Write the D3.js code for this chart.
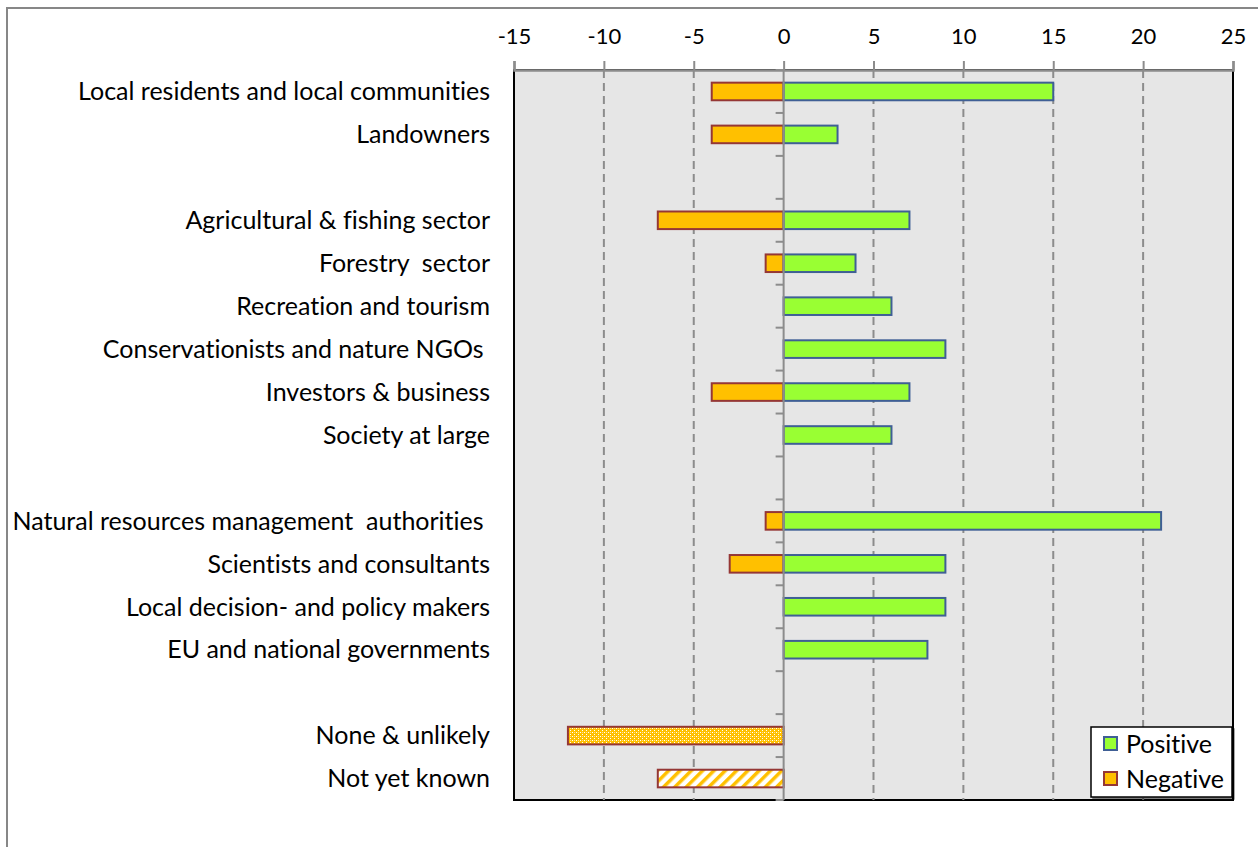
<!DOCTYPE html>
<html>
<head>
<meta charset="utf-8">
<script src="https://cdn.jsdelivr.net/npm/d3@7"></script>
<style>
  html, body { margin: 0; padding: 0; background: #fff; }
  svg { display: block; }
  text { font-family: Lato, "Open Sans", sans-serif; fill: #000; font-variant-ligatures: none; font-feature-settings: "liga" 0, "clig" 0; }
</style>
</head>
<body>
<svg id="chart" width="1258" height="847"></svg>
<script>
// Stakeholder groups, top to bottom; empty strings are spacer rows between groups
const categories = [
  "Local residents and local communities",
  "Landowners",
  "",
  "Agricultural & fishing sector",
  "Forestry  sector",
  "Recreation and tourism",
  "Conservationists and nature NGOs ",
  "Investors & business",
  "Society at large",
  "",
  "Natural resources management  authorities ",
  "Scientists and consultants",
  "Local decision- and policy makers",
  "EU and national governments",
  "",
  "None & unlikely",
  "Not yet known"
];
const positive = [15, 3, null, 7, 4, 6, 9, 7, 6, null, 21, 9, 9, 8, null, null, null];
const negative = [-4, -4, null, -7, -1, 0, 0, -4, 0, null, -1, -3, 0, 0, null, -12, -7];
// Fill style of the negative bar per row: solid, dotted or striped
const negativeFill = ["solid", "solid", null, "solid", "solid", "solid", "solid", "solid", "solid", null,
                      "solid", "solid", "solid", "solid", null, "dots", "stripes"];
const xTicks = [-15, -10, -5, 0, 5, 10, 15, 20, 25];
const seriesNames = ["Positive", "Negative"];

const C = {
  posFill: "#99FF33", posStroke: "#3F5F95",
  negFill: "#FFC000", negStroke: "#953735",
  plotBg: "#E6E6E6", grid: "#8C8C8C", axis: "#8C8C8C"
};
const labelSize = "25px", tickSize = "22px";

const svg = d3.select("#chart");
const plot = { left: 514, right: 1233, top: 70, bottom: 800 };

const x = d3.scaleLinear().domain([-15, 25]).range([plot.left, plot.right]);
const y = d3.scaleBand().domain(d3.range(categories.length)).range([plot.top, plot.bottom]).padding(0);
const barH = y.bandwidth() * 0.41;

// Fill patterns for the last two rows
const defs = svg.append("defs");
const dots = defs.append("pattern").attr("id", "dots").attr("patternUnits", "userSpaceOnUse")
  .attr("width", 4).attr("height", 4);
dots.append("rect").attr("width", 4).attr("height", 4).attr("fill", C.negFill);
dots.append("rect").attr("x", 0).attr("y", 0).attr("width", 1).attr("height", 1).attr("fill", "#fff");
dots.append("rect").attr("x", 2).attr("y", 2).attr("width", 1).attr("height", 1).attr("fill", "#fff");
dots.append("rect").attr("x", 2).attr("y", 0).attr("width", 1).attr("height", 1).attr("fill", "#FFE08A");
const stripes = defs.append("pattern").attr("id", "stripes").attr("patternUnits", "userSpaceOnUse")
  .attr("width", 8).attr("height", 8).attr("patternTransform", "rotate(45)");
stripes.append("rect").attr("width", 8).attr("height", 8).attr("fill", "#fff");
stripes.append("rect").attr("x", 0).attr("width", 3.5).attr("height", 8).attr("fill", C.negFill);

const shadow = defs.append("filter").attr("id", "shadow").attr("x", "-10%").attr("y", "-10%")
  .attr("width", "130%").attr("height", "130%");
shadow.append("feDropShadow").attr("dx", 2).attr("dy", 2).attr("stdDeviation", 0.6)
  .attr("flood-color", "#000").attr("flood-opacity", 0.45);

// Outer chart frame (top and left edges visible)
svg.append("path").attr("d", "M7,847 V8 H1258").attr("fill", "none")
  .attr("stroke", "#878787").attr("stroke-width", 2);

// Plot area
svg.append("rect")
  .attr("x", plot.left).attr("y", plot.top)
  .attr("width", plot.right - plot.left).attr("height", plot.bottom - plot.top)
  .attr("fill", C.plotBg).attr("stroke", "#000").attr("stroke-width", 2);

// Dashed vertical gridlines
svg.append("g").selectAll("line")
  .data(xTicks.filter(d => d !== 0 && d !== -15 && d !== 25))
  .join("line")
  .attr("x1", d => x(d)).attr("x2", d => x(d))
  .attr("y1", plot.top).attr("y2", plot.bottom)
  .attr("stroke", C.grid).attr("stroke-width", 2).attr("stroke-dasharray", "8,5");

// Top value axis
const xAxis = d3.axisTop(x).tickValues(xTicks).tickSize(9).tickPadding(17).tickFormat(d3.format("d"));
const gx = svg.append("g").attr("transform", `translate(0,${plot.top})`).call(xAxis);
gx.select(".domain").attr("stroke", C.axis).attr("stroke-width", 2.5);
gx.selectAll(".tick line").attr("stroke", C.axis).attr("stroke-width", 2);
gx.selectAll(".tick text").style("font-size", tickSize)
  .text(d => d < 0 ? "-" + Math.abs(d) : d);

// Bars
const rows = categories.map((c, i) => ({ i, c, pos: positive[i], neg: negative[i], fill: negativeFill[i] }));

svg.append("g").selectAll("rect")
  .data(rows.filter(r => r.neg !== null && r.neg < 0))
  .join("rect")
  .attr("x", r => x(r.neg)).attr("width", r => x(0) - x(r.neg))
  .attr("y", r => y(r.i) + (y.bandwidth() - barH) / 2).attr("height", barH)
  .attr("fill", r => r.fill === "solid" ? C.negFill : `url(#${r.fill})`)
  .attr("stroke", C.negStroke).attr("stroke-width", 2);

svg.append("g").selectAll("rect")
  .data(rows.filter(r => r.pos !== null && r.pos > 0))
  .join("rect")
  .attr("x", x(0)).attr("width", r => x(r.pos) - x(0))
  .attr("y", r => y(r.i) + (y.bandwidth() - barH) / 2).attr("height", barH)
  .attr("fill", C.posFill).attr("stroke", C.posStroke).attr("stroke-width", 2);

// Category axis along zero, ticks on the row boundaries
const boundaries = d3.range(categories.length + 1).map(i => plot.top + i * y.bandwidth());
const gy = svg.append("g");
gy.append("line").attr("x1", x(0)).attr("x2", x(0)).attr("y1", plot.top).attr("y2", plot.bottom)
  .attr("stroke", C.axis).attr("stroke-width", 2);
gy.selectAll("line.tk").data(boundaries).join("line").attr("class", "tk")
  .attr("x1", x(0) - 8).attr("x2", x(0)).attr("y1", d => d).attr("y2", d => d)
  .attr("stroke", C.axis).attr("stroke-width", 2);

// Category labels
svg.append("g").selectAll("text")
  .data(rows.filter(r => r.c !== ""))
  .join("text")
  .attr("x", 490).attr("y", r => y(r.i) + y.bandwidth() / 2)
  .attr("dy", "0.35em").attr("text-anchor", "end")
  .style("font-size", labelSize).style("white-space", "pre")
  .text(r => r.c);

// Legend
const lg = svg.append("g").attr("transform", "translate(1091,727)");
lg.append("rect").attr("width", 141).attr("height", 70).attr("fill", "#fff")
  .attr("stroke", "#000").attr("stroke-width", 1.5).attr("filter", "url(#shadow)");
const legendItems = [
  { name: seriesNames[0], fill: C.posFill, stroke: C.posStroke },
  { name: seriesNames[1], fill: C.negFill, stroke: C.negStroke }
];
const li = lg.selectAll("g.item").data(legendItems).join("g").attr("class", "item")
  .attr("transform", (d, i) => `translate(13,${10 + i * 35})`);
li.append("rect").attr("width", 13).attr("height", 13)
  .attr("fill", d => d.fill).attr("stroke", d => d.stroke).attr("stroke-width", 2);
li.append("text").attr("x", 22).attr("y", 7).attr("dy", "0.35em")
  .style("font-size", labelSize).text(d => d.name);
</script>
</body>
</html>
